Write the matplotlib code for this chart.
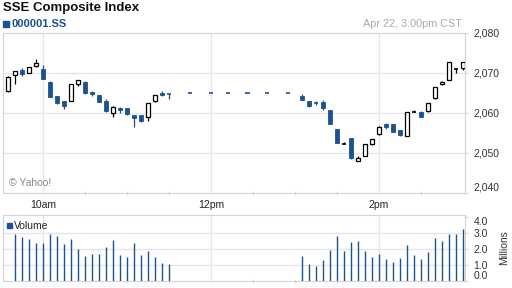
import matplotlib
matplotlib.use("Agg")
import matplotlib.pyplot as plt
from matplotlib.patches import Rectangle

plt.rcParams['font.family'] = ['Liberation Sans', 'DejaVu Sans']

# candle times in minutes after 09:30
am_times = [5, 10, 15, 20, 25, 30, 35, 40, 45, 50, 55, 60,
            65, 70, 75, 80, 85, 90, 95, 100, 105, 110, 115, 120]
pm_times = [215, 220, 225, 230, 235, 240, 245, 250, 255, 260, 265, 270,
            275, 280, 285, 290, 295, 300, 305, 310, 315, 320, 325, 330]

am_open = [2065.5, 2069.5, 2070.75, 2070.1, 2071.7, 2071.0, 2067.75, 2064.25,
           2063.0, 2063.1, 2067.3, 2067.75, 2065.3, 2064.5, 2063.1, 2059.9,
           2061.3, 2061.2, 2059.4, 2059.4, 2059.1, 2062.9, 2065.0, 2064.8]
am_high = [2069.2, 2070.6, 2071.25, 2071.5, 2073.4, 2072.0, 2067.9, 2064.3,
           2063.1, 2067.3, 2068.3, 2068.0, 2065.6, 2064.6, 2063.4, 2061.7,
           2061.4, 2061.3, 2059.5, 2059.5, 2062.5, 2064.6, 2065.5, 2064.8]
am_low = [2065.3, 2067.3, 2069.25, 2070.0, 2071.6, 2068.5, 2064.0, 2062.25,
          2061.1, 2063.0, 2066.75, 2064.8, 2064.25, 2062.7, 2060.2, 2058.9,
          2059.9, 2059.6, 2056.6, 2057.8, 2057.9, 2062.8, 2064.3, 2063.4]
am_close = [2069.0, 2070.5, 2069.75, 2071.4, 2072.6, 2068.6, 2064.1, 2062.6,
            2061.8, 2067.25, 2068.2, 2064.9, 2064.7, 2062.8, 2060.5, 2061.6,
            2060.75, 2059.75, 2058.7, 2057.9, 2062.4, 2064.5, 2064.4, 2064.75]

pm_open = [2064.3, 2063.0, 2062.65, 2062.75, 2060.75, 2056.0, 2052.25, 2053.7,
           2048.0, 2049.3, 2052.2, 2054.7, 2057.25, 2057.2, 2055.75, 2054.3,
           2060.2, 2060.3, 2060.4, 2063.7, 2067.2, 2068.25, 2070.9, 2071.2]
pm_high = [2064.7, 2063.1, 2063.1, 2063.25, 2060.8, 2056.1, 2052.8, 2053.8,
           2049.25, 2052.3, 2053.5, 2056.8, 2057.6, 2057.3, 2055.8, 2060.3,
           2060.75, 2060.4, 2062.5, 2066.5, 2067.9, 2072.8, 2070.95, 2072.8]
pm_low = [2063.2, 2061.6, 2062.0, 2060.75, 2057.2, 2052.5, 2052.25, 2048.6,
          2047.9, 2049.2, 2052.1, 2054.6, 2056.0, 2055.2, 2054.25, 2054.2,
          2060.2, 2059.0, 2060.3, 2063.6, 2067.1, 2068.2, 2069.9, 2070.75]
pm_close = [2063.25, 2061.8, 2062.6, 2061.2, 2057.3, 2052.6, 2052.3, 2048.7,
            2048.8, 2052.2, 2053.4, 2056.4, 2056.4, 2055.3, 2054.5, 2060.2,
            2060.25, 2059.1, 2062.4, 2066.4, 2067.8, 2072.7, 2070.95, 2072.7]

# flat quotes during the lunch break
lunch_times = [135, 150, 162, 176, 190, 205]
lunch_price = 2064.9

# volume (millions)
am_vol_times = am_times[1:]
am_volume = [2.94, 2.75, 2.63, 2.38, 2.38, 2.94, 2.79, 2.31, 2.63, 1.98, 1.56, 1.69,
             1.69, 2.13, 2.56, 1.63, 1.5, 2.38, 1.63, 1.88, 1.5, 1.13, 1.06]
pm_volume = [1.54, 1.04, 0.92, 1.29, 1.92, 2.79, 1.85, 2.42, 2.48, 1.85, 1.48, 1.67,
             1.35, 1.17, 1.42, 2.23, 1.6, 1.35, 1.79, 2.67, 2.48, 2.92, 2.92, 3.23]

time_ticks = [30, 150, 270]
time_labels = ["10am", "12pm", "2pm"]
price_ticks = [2040, 2050, 2060, 2070, 2080]
vol_ticks = [0, 1, 2, 3, 4]

BLUE = "#1d5290"
GRID = "#e2e4ee"
SPINE = "#d4d4d4"
W, H = 512, 288

fig = plt.figure(figsize=(W / 100, H / 100), dpi=100)
ax = fig.add_axes([3 / W, 95 / H, 462 / W, 160 / H])
axv = fig.add_axes([3 / W, 7 / H, 462 / W, 66 / H])

times = am_times + pm_times
opens = am_open + pm_open
highs = am_high + pm_high
lows = am_low + pm_low
closes = am_close + pm_close

cw = 3.2
for t, o, h, l, c in zip(times, opens, highs, lows, closes):
    col = BLUE if c < o else "black"
    if abs(c - o) < 0.15:
        ax.vlines(t, l, h, color=col, lw=0.9, zorder=3)
        ax.hlines(c, t - cw / 2, t + cw / 2, color=col, lw=1.2, zorder=3)
        continue
    ax.vlines(t, l, h, color=col, lw=0.9, zorder=2)
    if c > o:
        ax.bar(t, c - o, bottom=o, width=cw, facecolor="white",
               edgecolor="black", lw=0.9, zorder=3)
    else:
        ax.bar(t, o - c, bottom=c, width=cw, facecolor=BLUE,
               edgecolor=BLUE, lw=0.6, zorder=3)

for t in lunch_times:
    ax.hlines(lunch_price, t - cw / 2, t + cw / 2, color=BLUE, lw=1.2, zorder=3)

axv.vlines(am_vol_times, 0, am_volume, color=BLUE, lw=1.0, zorder=3)
axv.vlines(pm_times, 0, pm_volume, color=BLUE, lw=1.0, zorder=3)

for a in (ax, axv):
    a.set_xlim(1.4, 331.4)
    for s in a.spines.values():
        s.set_color(SPINE)
        s.set_linewidth(0.8)
    for t in time_ticks:
        a.axvline(t, color=GRID, lw=0.9, zorder=0)
    a.set_xticks([60, 90, 120, 180, 210, 240, 300], minor=True)
    a.tick_params(axis="x", which="minor", length=3, direction="inout",
                  color=SPINE, width=0.8)
    a.yaxis.tick_right()
    a.tick_params(axis="y", length=2, color=SPINE, labelsize=7.5,
                  labelcolor="#333333", pad=4)

ax.set_ylim(2040, 2080)
ax.set_yticks(price_ticks)
ax.set_yticklabels([f"{v:,}" for v in price_ticks])
ax.get_yticklabels()[0].set_va("bottom")
for v in price_ticks[1:-1]:
    ax.axhline(v, color=GRID, lw=0.9, zorder=0)
ax.set_xticks(time_ticks)
ax.set_xticklabels(time_labels)
ax.tick_params(axis="x", which="major", length=0, labelsize=7.5,
               labelcolor="#222222", pad=5)

axv.set_ylim(0, 4.12)
axv.set_yticks(vol_ticks)
axv.set_yticklabels([f"{v:.1f}" for v in vol_ticks])
axv.get_yticklabels()[0].set_va("bottom")
axv.get_yticklabels()[-1].set_va("top")
for v in vol_ticks[1:4]:
    axv.axhline(v, color=GRID, lw=0.9, zorder=0)
axv.set_xticks([])
axv.yaxis.set_label_position("right")
axv.set_ylabel("Millions", fontsize=7.5, color="#333333", labelpad=8)

ax.text(0.012, 0.06, "\u00a9 Yahoo!", transform=ax.transAxes, fontsize=7.5,
        color="#888888", va="center")

fig.text(3 / W, 1 - 8 / H, "SSE Composite Index", fontsize=9.5,
         weight="bold", va="center", color="#111111")
fig.patches.append(Rectangle((3 / W, 1 - 27 / H), 6 / W, 6 / H,
                             transform=fig.transFigure, color=BLUE))
fig.text(12 / W, 1 - 24 / H, "000001.SS", fontsize=8, weight="bold",
         va="center", color=BLUE)
fig.text(462 / W, 1 - 24 / H, "Apr 22, 3:00pm CST", fontsize=7.8,
         ha="right", va="center", color="#aaaaaa")
fig.patches.append(Rectangle((7 / W, 1 - 228 / H), 5 / W, 5 / H,
                             transform=fig.transFigure, color=BLUE))
fig.text(14 / W, 1 - 226 / H, "Volume", fontsize=7.5, va="center",
         color="#222222")

fig.savefig("out.png", dpi=100)
